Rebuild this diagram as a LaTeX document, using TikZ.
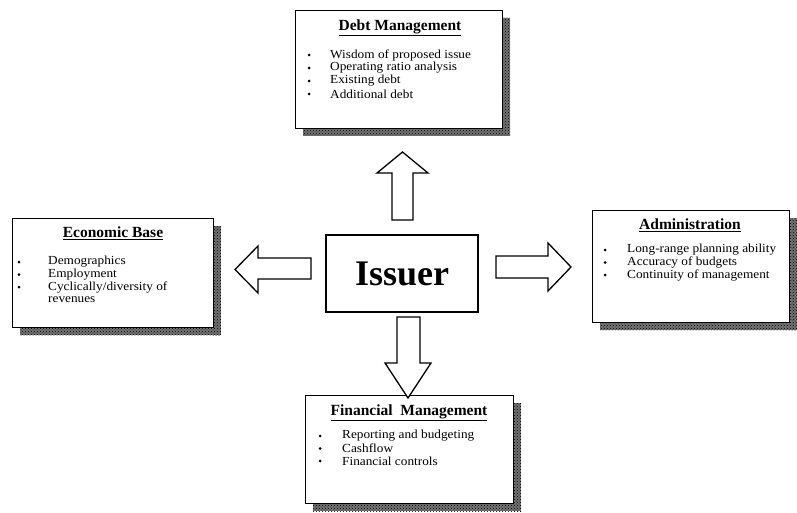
\documentclass[tikz,border=0pt]{standalone}
\usepackage{fontspec}
\setmainfont{Liberation Serif}
\newfontfamily\itemfont[FakeStretch=1.08]{Liberation Serif}
\usetikzlibrary{patterns}
\tikzset{
  panel/.style={draw=black, line width=1.3pt, fill=white, inner sep=0pt, anchor=north west},
  shade/.style={fill=black!55, postaction={pattern=crosshatch dots, pattern color=black}},
  ttl/.style={font=\fontsize{15.5}{15.5}\selectfont\bfseries, inner sep=0pt},
  itm/.style={font=\itemfont\fontsize{12.3}{12.3}\selectfont, anchor=west, inner sep=0pt},
  bul/.style={fill=black, circle, inner sep=0pt, minimum size=3pt},
  blk/.style={draw=black, line width=1.3pt, fill=white, line join=miter}
}
\newcommand{\mkpanel}[5]{% name, l, t, r, b
  \fill[shade] (#4,#3+8) rectangle (#4+8,#5+8);
  \fill[shade] (#2+8,#5) rectangle (#4+8,#5+8);
  \node[panel, minimum width=#4-#2, minimum height=#5-#3] (#1) at (#2,#3) {};
}
\begin{document}
\begin{tikzpicture}[x=1pt,y=-1pt]
\useasboundingbox (0,0) rectangle (797,513);
% panels
\mkpanel{debt}{295}{10}{502}{128}
\mkpanel{econ}{12}{218}{213}{327}
\mkpanel{admin}{592}{210}{789}{322}
\mkpanel{fin}{305}{395}{513}{503}
% issuer
\node[draw=black, line width=1.3pt, minimum width=152pt, minimum height=77pt, inner sep=0pt,
      font=\fontsize{36}{36}\selectfont\bfseries] (issuer) at (402,273.5) {Issuer};
% debt text
\node[ttl] (debtT) at (400,28) {\underline{Debt Management}};
\node[bul] (d1b) at (309,55) {}; \node[itm] (d1) at (330,55) {Wisdom of proposed issue};
\node[bul] (d2b) at (309,68) {}; \node[itm] (d2) at (330,68) {Operating ratio analysis};
\node[bul] (d3b) at (309,81) {}; \node[itm] (d3) at (330,81) {Existing debt};
\node[bul] (d4b) at (309,94) {}; \node[itm] (d4) at (330,94) {Additional debt};
% economic base
\node[ttl] (econT) at (113,233) {\underline{Economic Base}};
\node[bul] (e1b) at (19,262) {}; \node[itm] (e1) at (48,262) {Demographics};
\node[bul] (e2b) at (19,274.5) {}; \node[itm] (e2) at (48,274.5) {Employment};
\node[bul] (e3b) at (19,287) {}; \node[itm] (e3) at (48,287) {Cyclically/diversity of};
\node[itm] (e4) at (48,299.5) {revenues};
% administration
\node[ttl] (adminT) at (690,225) {\underline{Administration}};
\node[bul] (a1b) at (605,250) {}; \node[itm] (a1) at (627,250) {Long-range planning ability};
\node[bul] (a2b) at (605,262.5) {}; \node[itm] (a2) at (627,262.5) {Accuracy of budgets};
\node[bul] (a3b) at (605,275) {}; \node[itm] (a3) at (627,275) {Continuity of management};
% financial
\node[ttl] (finT) at (409,413) {\underline{Financial\ \ Management}};
\node[bul] (f1b) at (320,436) {}; \node[itm] (f1) at (342,436) {Reporting and budgeting};
\node[bul] (f2b) at (320,448.5) {}; \node[itm] (f2) at (342,448.5) {Cashflow};
\node[bul] (f3b) at (320,461) {}; \node[itm] (f3) at (342,461) {Financial controls};
% block arrows
\draw[blk] (392,220) -- (392,173) -- (377,173) -- (402.5,152) -- (428,173) -- (413,173) -- (413,220) -- cycle;
\draw[blk] (311,258) -- (258,258) -- (258,246) -- (235,269.5) -- (258,293) -- (258,279) -- (311,279) -- cycle;
\draw[blk] (496,256) -- (548,256) -- (548,243) -- (571,267) -- (548,291) -- (548,278) -- (496,278) -- cycle;
\draw[blk] (397,317) -- (397,363) -- (385,363) -- (408,398) -- (431,363) -- (420,363) -- (420,317) -- cycle;
\end{tikzpicture}
\end{document}
